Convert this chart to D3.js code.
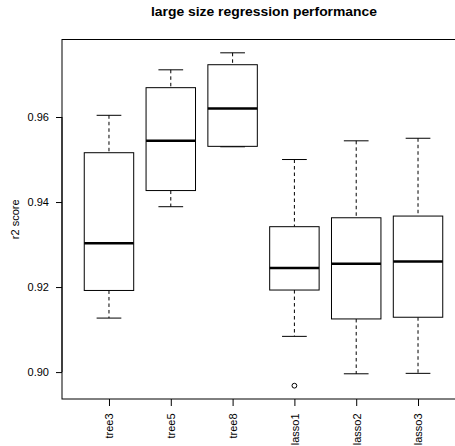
<!DOCTYPE html>
<html>
<head>
<meta charset="utf-8">
<script src="https://cdn.jsdelivr.net/npm/d3@7"></script>
<style>
  html, body { margin: 0; padding: 0; background: #fff; }
  svg { display: block; }
  text { font-family: "Liberation Sans", Arial, Helvetica, sans-serif; fill: #000; }
</style>
</head>
<body>
<svg id="chart" width="455" height="446"></svg>
<script>
// Box-plot summary statistics per model
const categories = ["tree3", "tree5", "tree8", "lasso1", "lasso2", "lasso3"];
const whiskerLow = [0.9127, 0.9389, 0.9530, 0.9084, 0.8996, 0.8997];
const q1         = [0.9192, 0.9427, 0.9531, 0.9193, 0.9125, 0.9129];
const medians    = [0.9303, 0.9544, 0.9620, 0.9245, 0.9255, 0.9260];
const q3         = [0.9516, 0.9669, 0.9723, 0.9342, 0.9363, 0.9367];
const whiskerHigh= [0.9604, 0.9711, 0.9751, 0.9500, 0.9544, 0.9550];
const outliers   = [[], [], [], [0.8968], [], []];
const yTicks = [0.90, 0.92, 0.94, 0.96];

const svg = d3.select("#chart");
const plotLeft = 62, plotRight = 465, plotTop = 39.5, plotBottom = 399;

// y range extended 4% past the data, as R does
const allVals = whiskerLow.concat(whiskerHigh, outliers.flat());
const lo = d3.min(allVals), hi = d3.max(allVals);
const pad = (hi - lo) * 0.04;
const y = d3.scaleLinear().domain([lo - pad, hi + pad]).range([plotBottom, plotTop]);
const x = d3.scaleLinear().domain([0.24, 6.76]).range([plotLeft, plotRight]);

const boxW = x(0.8) - x(0);
const capW = x(0.4) - x(0);

// title
svg.append("text")
  .attr("x", 151).attr("y", 15.5)
  .attr("textLength", 226).attr("lengthAdjust", "spacingAndGlyphs")
  .style("font-size", "12.5px").style("font-weight", "bold")
  .text("large size regression performance");

// y axis label
svg.append("text")
  .attr("transform", `translate(18.5, ${(plotTop + plotBottom) / 2}) rotate(-90)`)
  .attr("text-anchor", "middle")
  .style("font-size", "11px")
  .text("r2 score");

const g = svg.append("g");

categories.forEach((c, i) => {
  const cx = x(i + 1);
  // whiskers
  [[whiskerHigh[i], q3[i]], [q1[i], whiskerLow[i]]].forEach(([a, b]) => {
    g.append("line")
      .attr("x1", cx).attr("x2", cx)
      .attr("y1", y(a)).attr("y2", y(b))
      .attr("stroke", "#000").attr("stroke-width", 1)
      .attr("stroke-dasharray", "3.5,3");
  });
  // staples
  [whiskerHigh[i], whiskerLow[i]].forEach(v => {
    g.append("line")
      .attr("x1", cx - capW / 2).attr("x2", cx + capW / 2)
      .attr("y1", y(v)).attr("y2", y(v))
      .attr("stroke", "#000").attr("stroke-width", 1);
  });
  // box
  g.append("rect")
    .attr("x", cx - boxW / 2).attr("width", boxW)
    .attr("y", y(q3[i])).attr("height", y(q1[i]) - y(q3[i]))
    .attr("fill", "#fff").attr("stroke", "#000").attr("stroke-width", 1);
  // median
  g.append("line")
    .attr("x1", cx - boxW / 2).attr("x2", cx + boxW / 2)
    .attr("y1", y(medians[i])).attr("y2", y(medians[i]))
    .attr("stroke", "#000").attr("stroke-width", 2.6);
  // outliers
  outliers[i].forEach(v => {
    g.append("circle")
      .attr("cx", cx).attr("cy", y(v)).attr("r", 2.4)
      .attr("fill", "none").attr("stroke", "#000").attr("stroke-width", 1);
  });
});

// plot frame
svg.append("rect")
  .attr("x", plotLeft).attr("y", plotTop)
  .attr("width", plotRight - plotLeft).attr("height", plotBottom - plotTop)
  .attr("fill", "none").attr("stroke", "#000").attr("stroke-width", 1);

// y axis
const yAxis = d3.axisLeft(y).tickValues(yTicks).tickSize(6).tickPadding(7)
  .tickFormat(d3.format(".2f"));
const ya = svg.append("g").attr("transform", `translate(${plotLeft},0)`).call(yAxis);
ya.select(".domain").remove();
ya.append("line")
  .attr("x1", 0).attr("x2", 0)
  .attr("y1", y(yTicks[0])).attr("y2", y(yTicks[yTicks.length - 1]))
  .attr("stroke", "#000");
ya.selectAll("text").style("font-size", "11px")
  .style("font-family", "'Liberation Sans', Arial, sans-serif").attr("fill", "#000");

// x axis
const xAxis = d3.axisBottom(x).tickValues(d3.range(1, categories.length + 1))
  .tickSize(7).tickPadding(4).tickFormat(d => categories[d - 1]);
const xa = svg.append("g").attr("transform", `translate(0,${plotBottom})`).call(xAxis);
xa.select(".domain").remove();
xa.selectAll("text")
  .attr("transform", "rotate(-90)")
  .attr("x", -14.5).attr("y", 0).attr("dy", "0.35em")
  .attr("text-anchor", "end")
  .style("font-size", "11px")
  .style("font-family", "'Liberation Sans', Arial, sans-serif").attr("fill", "#000");
</script>
</body>
</html>
